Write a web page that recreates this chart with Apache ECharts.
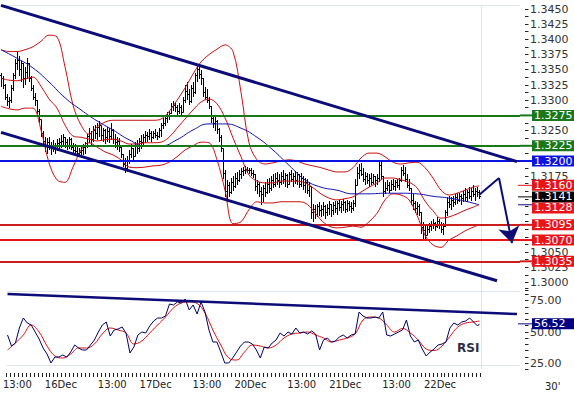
<!DOCTYPE html>
<html><head><meta charset="utf-8">
<script src="https://cdn.jsdelivr.net/npm/echarts@6/dist/echarts.min.js"></script>
<style>html,body{margin:0;padding:0;background:#fff}#c{width:574px;height:396px}</style>
</head><body><div id="c"></div><script>
// ---------- DATA (prices in pips above 1.3000; 30-minute bars) ----------
const BASE = 1.3, PIP = 0.0001;
const LAST_BAR = 239;
const firstOpenPips = 340;
const closePips = [
335,325,305,298,300,320,340,360,365,350, 360,335,345,360,335,320,305,300,282,268,
245,232,225,230,222,225,220,225,228,230, 232,238,230,225,235,222,218,215,212,214,
218,222,228,240,245,235,250,245,255,258, 242,250,238,248,240,250,235,230,232,222,
210,195,188,200,210,220,208,225,220,232, 230,238,242,240,245,238,246,242,240,250,
258,262,270,275,278,290,292,288,282,288, 280,300,315,310,298,320,312,340,350,342,
335,312,305,300,290,270,262,265,252,238, 220,180,150,160,148,165,158,172,168,178,
182,185,186,184,185,180,178,158,162,150, 145,155,148,162,155,168,162,172,168,165,
175,170,176,162,178,170,175,168,178,162, 172,160,165,152,158,115,120,112,125,118,
120,125,115,122,128,118,126,122,130,124, 128,132,120,130,125,122,130,160,180,185,
178,170,175,168,172,165,175,168,172,192, 175,150,155,160,152,162,158,165,160,168,
185,180,170,160,155,135,130,122,125,115, 90,85,78,88,92,95,98,92,100,95,
88,92,115,132,128,135,132,140,135,142, 138,145,140,148,142,150,145,150,148,141];
const highPips = [
345,340,326,310,305,325,345,368,380,372, 365,362,355,370,362,340,325,312,300,285,
268,250,240,238,240,232,235,230,236,238, 242,245,240,236,240,238,230,228,225,222,
226,228,232,245,255,250,258,260,262,265, 258,255,252,256,254,262,252,245,240,238,
225,212,205,208,218,228,222,232,235,238, 242,245,250,248,252,250,250,252,248,255,
262,270,275,280,282,295,298,297,292,295, 292,305,325,330,318,325,330,345,360,358,
350,336,322,318,305,290,275,272,268,255, 242,220,185,168,165,172,175,180,182,185,
188,190,192,190,189,188,185,178,168,165, 158,160,165,170,172,175,178,180,182,178,
182,185,180,178,182,185,180,184,182,178, 180,175,172,170,165,158,130,128,130,132,
128,132,128,130,134,130,133,135,134,136, 134,138,135,136,135,132,136,170,190,195,
197,188,182,180,178,180,178,176,178,198, 200,176,165,168,165,168,170,168,170,172,
190,193,190,178,170,155,145,135,132,130, 116,100,95,96,98,102,104,100,108,104,
100,98,120,140,142,140,142,145,148,148, 145,150,155,152,158,155,160,155,158,152];
const lowPips = [
322,318,300,290,288,295,315,335,350,340, 330,320,325,335,330,315,300,290,278,262,
240,228,215,212,218,210,215,212,216,220, 222,225,222,218,220,218,212,210,208,206,
208,210,212,222,230,225,232,236,235,240, 235,232,228,232,230,235,228,222,218,215,
205,190,180,182,195,205,200,208,212,215, 220,225,230,232,235,232,236,238,234,238,
240,252,258,262,268,278,282,280,276,278, 275,280,295,300,292,295,305,310,330,335,
325,305,300,295,285,262,255,250,245,232, 215,170,140,136,140,145,150,155,160,165,
170,175,178,180,178,176,172,150,145,140, 128,132,140,145,148,150,155,158,160,155,
160,162,158,155,160,165,158,162,160,155, 158,152,148,145,140,105,100,105,108,110,
108,110,105,110,112,108,112,115,112,118, 115,118,114,116,118,115,118,125,160,170,
175,165,160,162,158,160,162,158,160,165, 170,140,145,150,148,150,152,150,155,152,
165,175,165,155,150,128,120,115,112,110, 80,72,70,78,82,85,88,85,90,88,
82,78,92,110,122,120,125,128,130,132, 128,132,135,132,138,135,140,135,140,138];
// Bollinger bands read every 4 bars (last value at the last bar)
const bbUpperPips = [383,380,380,383,388,397,407,404,355,292, 259,244,256,264,267,267,267,267,267,267,
269,281,300,320,343,363,375,384,391,380, 313,230,202,195,197,200,202,200,195,192,
189,185,182,182,189,205,213,213,207,198, 195,197,198,189,172,152,144,147,152,157, 159];
const bbMidPips = [336,333,332,335,338,323,302,287,259,241, 239,236,233,235,236,233,228,228,230,230,
231,239,254,269,284,297,302,294,271,238, 207,177,167,164,164,167,167,167,164,156,
146,139,136,138,141,149,157,164,172,172, 169,165,156,134,118,106,108,113,119,124, 128];
const bbLowerPips = [290,286,284,287,287,251,197,169,165,190, 218,230,223,215,210,202,190,189,190,192,
193,198,207,218,225,231,230,202,152,97, 100,120,133,131,131,133,133,133,131,119,
103,93,90,91,93,91,100,114,136,146, 144,136,111,78,62,58,70,77,85,91, 95];
// blue moving average read every 8 bars
const maPips = [383,369,353,330,304,284,266,251,235,225,225,235,251,261,261,254,239,218,193,169,
157,152,146,146,147,147,146,142,139,134,128];
// RSI read every 2 bars, signal every 4 bars
const rsiValues = [47.6,38.8,41.2,53.2,61.2,57.2,55.6,50,44.4,37.2, 32.4,25.2,30,30,31.6,30,34,39.6,37.2,35.6,
35.6,39.6,43.6,50,55.6,58,46.8,51.6,52.4,54, 49.2,33.2,38,47.6,50,49.2,54.8,58.8,61.2,61.2,
62.8,72.4,71.6,74,73.2,76.4,67.6,71.6,64.4,74, 66,51.6,42,42,34,25.2,25.2,29.2,34,38.8,
42,42,40.4,35.6,29.2,38,37.2,41.2,43.6,49.2, 46.8,50,48.4,53.2,49.2,50,48.4,50.8,48.4,35.6,
43.6,45.2,42,42.8,46,47.6,45.2,47.6,48.4,66, 62.8,61.2,61.2,62,61.2,66,47.6,46.8,48.4,50,
51.6,59.6,46.8,42,43.6,36.4,30.8,34,36.4,39.6, 40.4,42,53.2,57.2,55.6,58,58.8,61.2,58,54.8, 56.52];
const rsiSignal = [35.6,41.2,47.6,55.6,50,38.8,30.8,29.2,32.4,37.2, 37.2,40.4,48.4,53.2,51.6,49.2,40.4,42.8,49.2,55.6,
62,69.2,73.2,74,72.8,65.2,51.6,39.6,29.2,27.6, 34,39.6,38.8,37.2,39.6,45.2,48.4,49.2,50,47.6,
45.2,42,43.6,45.2,48.4,59.6,62,61.2,55.6,50, 52.8,49.2,43.6,36.4,35.2,38.8,46.4,54,57.2,58, 58.8];
// drawn lines: [bar, value]
const trendUpper = [[0, 1.3456], [258, 1.3199]];
const trendLower = [[0, 1.3247], [248, 1.3003]];
const rsiTrend = [[0, 80.4], [258, 64.4]];
const arrowPath = [[239, 1.3144], [249, 1.3172], [255.5, 1.3065]];
// horizontal levels
const greenLevels = [1.3275, 1.3225];
const blueLevels = [1.3200];
const redLevels = [1.3095, 1.3070, 1.3035];
// price tags at right
const tagValues = [1.3275, 1.3225, 1.3200, 1.3160, 1.3141, 1.3128, 1.3095, 1.3070, 1.3035];
const rsiTag = 56.52;
// x-axis tick labels
const xTickLabels = ['13:00','16Dec','13:00','17Dec','13:00','20Dec','13:00','21Dec','13:00','22Dec'];
const xTickBars = [5, 27, 53, 75, 101, 123, 149, 171, 197, 219];
const SLOTS = 260;
const PRICE_MIN = 1.29875, PRICE_MAX = 1.34566, PRICE_STEP = 0.00125;
const RSI_MIN = 20, RSI_MAX = 85, RSI_STEP = 5;

// ---------- STYLES ----------
const GREEN = '#18781a', BLUE = '#0a14e0', RED = '#e81418', DRED = '#cc1c1c', NAVY = '#0c0c78';
const tagBg = [GREEN, GREEN, BLUE, RED, '#000000', RED, RED, RED, RED];
const tagLink = [GREEN, GREEN, BLUE, RED, '#000000', NAVY, DRED, RED, DRED];
const FONT = 'DejaVu Sans, Verdana, sans-serif';

// ---------- BUILD ----------
const price = p => +(BASE + p * PIP).toFixed(5);
const ohlc = closePips.map((c, i) => [i, price(i === 0 ? firstOpenPips : closePips[i - 1]), price(c), price(lowPips[i]), price(highPips[i])]);
function sampled(vals, step, conv) {
  return vals.map((v, k) => [k === vals.length - 1 ? LAST_BAR : k * step, conv ? conv(v) : v]);
}
const labelMap = {};
xTickBars.forEach((b, i) => labelMap[b] = xTickLabels[i]);
const cats = [];
for (let i = 0; i < SLOTS; i++) cats.push(String(i));
const coveredByTag = v => tagValues.some(t => Math.abs(t - v) < 0.00095);

const chart = echarts.init(document.getElementById('c'), null, {renderer: 'svg'});
const lineBase = {type: 'line', symbol: 'none', silent: true, animation: false};
const mk = (data, extra) => Object.assign({silent: true, symbol: 'none', precision: 6, label: {show: false}, animation: false, data: data}, extra || {});
const crisp = v => Math.round(v - 0.5) + 0.5;
const option = {
  animation: false,
  backgroundColor: '#ffffff',
  grid: [
    {left: 0, top: 5, width: 520, height: 285.2},
    {left: 0, top: 288.25, width: 520, height: 81.25}
  ],
  xAxis: [
    {type: 'value', gridIndex: 0, min: -0.5, max: SLOTS - 0.5, show: false},
    {type: 'value', gridIndex: 1, min: -0.5, max: SLOTS - 0.5, show: false},
    {type: 'category', gridIndex: 1, data: cats, position: 'bottom', offset: 3,
     axisLine: {show: false}, axisTick: {show: false},
     axisLabel: {show: true, interval: (i) => labelMap[i] !== undefined, formatter: (v, i) => labelMap[i] || '',
                 color: '#222', fontSize: 10, fontFamily: FONT, margin: 7},
     splitLine: {show: false}}
  ],
  yAxis: [
    {type: 'value', gridIndex: 0, position: 'right', offset: 5, min: PRICE_MIN, max: PRICE_MAX, interval: PRICE_STEP,
     axisLine: {show: false}, splitLine: {show: false}, axisTick: {show: false},
     axisLabel: {margin: 5, color: '#333', fontSize: 11, fontFamily: FONT,
                 formatter: v => (Math.round(v * 10000) % 25 === 0 && !coveredByTag(v) ? v.toFixed(4) : '')}},
    {type: 'value', gridIndex: 1, position: 'right', offset: 5, min: RSI_MIN, max: RSI_MAX, interval: RSI_STEP,
     axisLine: {show: false}, splitLine: {show: false}, axisTick: {show: false},
     axisLabel: {margin: 5, color: '#333', fontSize: 11, fontFamily: FONT,
                 formatter: v => (v % 25 === 0 ? v.toFixed(2) : '')}}
  ],
  series: [
    Object.assign({}, lineBase, {name: 'levels', xAxisIndex: 0, yAxisIndex: 0, data: [], z: 1,
      markLine: mk([
          {yAxis: 1.3456, lineStyle: {color: '#dde5ee', width: 1, type: 'solid'}},
          {xAxis: 240, lineStyle: {color: '#dde5ee', width: 1, type: 'solid'}},
          ...greenLevels.map(v => ({yAxis: v, lineStyle: {color: GREEN, width: 2, type: 'solid'}})),
          ...blueLevels.map(v => ({yAxis: v, lineStyle: {color: BLUE, width: 2, type: 'solid'}})),
          ...redLevels.map((v, i) => ({yAxis: v, lineStyle: {color: i === 1 ? RED : DRED, width: 2, type: 'solid'}}))
        ])}),
    {type: 'custom', name: 'bars', xAxisIndex: 0, yAxisIndex: 0, z: 3, silent: true, animation: false,
     data: ohlc, encode: {x: 0, y: [1, 2, 3, 4]},
     renderItem: function (params, api) {
       const x = api.value(0);
       const o = api.coord([x, api.value(1)]), c = api.coord([x, api.value(2)]);
       const l = api.coord([x, api.value(3)]), h = api.coord([x, api.value(4)]);
       const px = Math.round(l[0]) + 0.5;
       const st = {stroke: '#000', lineWidth: 1};
       return {type: 'group', children: [
         {type: 'line', shape: {x1: px, y1: Math.round(l[1]), x2: px, y2: Math.round(h[1])}, style: st},
         {type: 'line', shape: {x1: px - 2, y1: crisp(o[1]), x2: px, y2: crisp(o[1])}, style: st},
         {type: 'line', shape: {x1: px, y1: crisp(c[1]), x2: px + 2, y2: crisp(c[1])}, style: st}
       ]};
     }},
    Object.assign({}, lineBase, {name: 'bbU', xAxisIndex: 0, yAxisIndex: 0, z: 4, smooth: 0.35,
      data: sampled(bbUpperPips, 4, price), lineStyle: {color: '#cc1010', width: 1}}),
    Object.assign({}, lineBase, {name: 'bbM', xAxisIndex: 0, yAxisIndex: 0, z: 4, smooth: 0.35,
      data: sampled(bbMidPips, 4, price), lineStyle: {color: '#cc1010', width: 1}}),
    Object.assign({}, lineBase, {name: 'bbL', xAxisIndex: 0, yAxisIndex: 0, z: 4, smooth: 0.35,
      data: sampled(bbLowerPips, 4, price), lineStyle: {color: '#cc1010', width: 1}}),
    Object.assign({}, lineBase, {name: 'ma', xAxisIndex: 0, yAxisIndex: 0, z: 4, smooth: 0.5,
      data: sampled(maPips, 8, price), lineStyle: {color: '#1010b0', width: 1}}),
    Object.assign({}, lineBase, {name: 'tU', xAxisIndex: 0, yAxisIndex: 0, z: 6,
      data: trendUpper, lineStyle: {color: NAVY, width: 3}}),
    Object.assign({}, lineBase, {name: 'tL', xAxisIndex: 0, yAxisIndex: 0, z: 6,
      data: trendLower, lineStyle: {color: NAVY, width: 3}}),
    Object.assign({}, lineBase, {name: 'arrow', xAxisIndex: 0, yAxisIndex: 0, z: 7,
      data: arrowPath.slice(0, 2), lineStyle: {color: NAVY, width: 2},
      markLine: mk([[{coord: arrowPath[1]}, {coord: arrowPath[2]}]],
        {symbol: ['none', 'arrow'], symbolSize: 16, lineStyle: {color: NAVY, width: 2, type: 'solid'}, itemStyle: {color: NAVY}})}),
    // RSI panel
    Object.assign({}, lineBase, {name: 'rsiFrame', xAxisIndex: 1, yAxisIndex: 1, data: [], z: 1,
      markLine: mk([
          {yAxis: 82.8, lineStyle: {color: '#dde5ee', width: 1, type: 'solid'}},
          {yAxis: 23.6, lineStyle: {color: '#dde5ee', width: 1, type: 'solid'}},
          {xAxis: 240, lineStyle: {color: '#dde5ee', width: 1, type: 'solid'}}
        ])}),
    Object.assign({}, lineBase, {name: 'rsiSig', xAxisIndex: 1, yAxisIndex: 1, z: 4, smooth: 0.4,
      data: sampled(rsiSignal, 4), lineStyle: {color: '#dd1010', width: 1}}),
    Object.assign({}, lineBase, {name: 'rsi', xAxisIndex: 1, yAxisIndex: 1, z: 5,
      data: sampled(rsiValues, 2), lineStyle: {color: '#000066', width: 1}}),
    Object.assign({}, lineBase, {name: 'rsiT', xAxisIndex: 1, yAxisIndex: 1, z: 6,
      data: rsiTrend, lineStyle: {color: NAVY, width: 2.5}})
  ]
};
chart.setOption(option);

// ---------- axis tick marks (placed through the axes' own scales) ----------
const graphics = [];
const TICK_X0 = 525, TICK_X1 = 528.5;
for (let k = 0; PRICE_MIN + k * PRICE_STEP <= PRICE_MAX + 1e-9; k++) {
  const y = crisp(chart.convertToPixel({yAxisIndex: 0}, PRICE_MIN + k * PRICE_STEP));
  graphics.push({type: 'line', z: 40, silent: true, shape: {x1: TICK_X0, y1: y, x2: TICK_X1, y2: y}, style: {stroke: '#222', lineWidth: 1}});
}
for (let v = RSI_MIN; v <= RSI_MAX; v += RSI_STEP) {
  const y = crisp(chart.convertToPixel({yAxisIndex: 1}, v));
  graphics.push({type: 'line', z: 40, silent: true, shape: {x1: TICK_X0, y1: y, x2: TICK_X1, y2: y}, style: {stroke: '#222', lineWidth: 1}});
}
for (let b = 0; b <= LAST_BAR + 1; b += 2) {
  const x = crisp(chart.convertToPixel({xAxisIndex: 1}, b - 0.5)) ;
  graphics.push({type: 'line', z: 40, silent: true, shape: {x1: x, y1: 373, x2: x, y2: 377}, style: {stroke: '#222', lineWidth: 1}});
}

// ---------- price tags ----------
const BOX_X = 532, BOX_W = 42, BOX_H = 11;
let prevBottom = -1e9;
tagValues.forEach((v, i) => {
  const y = chart.convertToPixel({yAxisIndex: 0}, v);
  let cy = Math.max(y, prevBottom + BOX_H / 2);
  prevBottom = cy + BOX_H / 2;
  graphics.push({type: 'line', z: 50, shape: {x1: i >= 3 && i <= 5 ? 518 : 520, y1: y, x2: BOX_X, y2: y}, style: {stroke: tagLink[i], lineWidth: i >= 3 && i <= 5 ? 1 : 2}});
  graphics.push({type: 'rect', z: 50, shape: {x: BOX_X, y: cy - BOX_H / 2, width: BOX_W, height: BOX_H}, style: {fill: tagBg[i]}});
  graphics.push({type: 'text', z: 51, x: BOX_X + 2, y: cy, style: {text: v.toFixed(4), fill: '#fff', font: '11px ' + FONT, verticalAlign: 'middle', textVerticalAlign: 'middle'}});
});
const ry = chart.convertToPixel({yAxisIndex: 1}, rsiTag);
graphics.push({type: 'line', z: 50, shape: {x1: 518, y1: ry, x2: BOX_X, y2: ry}, style: {stroke: NAVY, lineWidth: 1}});
graphics.push({type: 'rect', z: 50, shape: {x: BOX_X, y: ry - BOX_H / 2, width: BOX_W, height: BOX_H}, style: {fill: '#000080'}});
graphics.push({type: 'text', z: 51, x: BOX_X + 2, y: ry, style: {text: rsiTag.toFixed(2), fill: '#fff', font: '11px ' + FONT, verticalAlign: 'middle', textVerticalAlign: 'middle'}});
graphics.push({type: 'text', z: 51, x: 457, y: 348, style: {text: 'RSI', fill: '#2e2e40', font: 'bold 12px ' + FONT, verticalAlign: 'middle', textVerticalAlign: 'middle'}});
graphics.push({type: 'text', z: 51, x: 545, y: 386, style: {text: "30'", fill: '#222', font: '10px ' + FONT, verticalAlign: 'middle', textVerticalAlign: 'middle'}});
chart.setOption({graphic: graphics});
</script></body></html>
